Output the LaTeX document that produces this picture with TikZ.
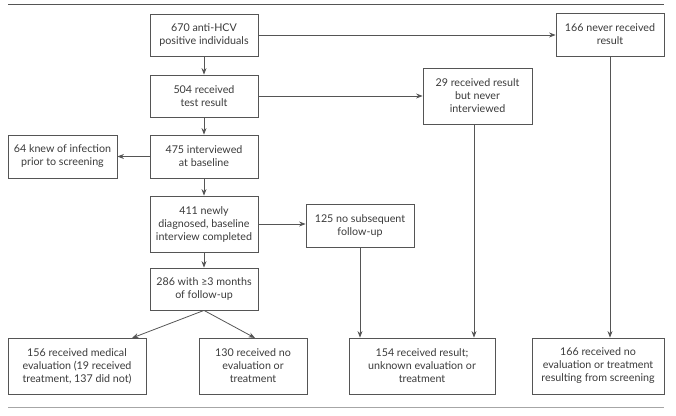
\documentclass[tikz,border=0pt]{standalone}
\usepackage{fontspec}
\setmainfont{Lato}
\usetikzlibrary{arrows.meta}
\definecolor{linegray}{HTML}{555555}
\definecolor{textgray}{HTML}{3A3A3A}
\begin{document}
\begin{tikzpicture}[x=1pt,y=-1pt,
  box/.style={draw=linegray, line width=0.8pt, align=center, inner sep=2pt,
    font=\fontsize{10.7}{13}\selectfont, text=textgray, anchor=center},
  conn/.style={draw=linegray, line width=0.8pt, -{Stealth[length=6.5pt,width=5pt]}},
  rulestyle/.style={draw=linegray, line width=0.8pt}]
\useasboundingbox (0,0) rectangle (676,415);
\coordinate (r1a) at (8,4); \coordinate (r1b) at (664,4);
\coordinate (r2a) at (8,407.5); \coordinate (r2b) at (664,407.5);
\draw[rulestyle] (r1a) -- (r1b);
\draw[rulestyle, draw=gray!70, line width=1.2pt] (r2a) -- (r2b);

\node[box, minimum width=108pt, minimum height=42pt] (A) at (204,35) {670 anti-HCV\\positive individuals};
\node[box, minimum width=108pt, minimum height=42pt] (B) at (204,96) {504 received\\test result};
\node[box, minimum width=108pt, minimum height=43pt] (C) at (204,156.5) {475 interviewed\\at baseline};
\node[box, minimum width=109pt, minimum height=43pt] (D) at (62.5,156.5) {64 knew of infection\\prior to screening};
\node[box, minimum width=108pt, minimum height=56pt] (E) at (204,224) {411 newly\\diagnosed, baseline\\interview completed};
\node[box, minimum width=108pt, minimum height=42pt] (F) at (204,289) {286 with ≥3 months\\of follow-up};
\node[box, minimum width=138pt, minimum height=56pt] (G) at (77,366) {156 received medical\\evaluation (19 received\\treatment, 137 did not)};
\node[box, minimum width=108pt, minimum height=56pt] (H) at (253,366) {130 received no\\evaluation or\\treatment};
\node[box, minimum width=108pt, minimum height=43pt] (I) at (360,225.5) {125 no subsequent\\follow-up};
\node[box, minimum width=109pt, minimum height=56pt] (J) at (477.5,96) {29 received result\\but never\\interviewed};
\node[box, minimum width=108pt, minimum height=43pt] (K) at (610,34.5) {166 never received\\result};
\node[box, minimum width=146pt, minimum height=56pt] (L) at (422,366) {154 received result;\\unknown evaluation or\\treatment};
\node[box, minimum width=132pt, minimum height=56pt] (M) at (598,366) {166 received no\\evaluation or treatment\\resulting from screening};

\draw[conn] (A) -- (B);
\draw[conn] (B) -- (C);
\draw[conn] (C) -- (E);
\draw[conn] (E) -- (F);
\draw[conn] (C) -- (D);
\draw[conn] (A.east) -- (A.east -| K.west);
\draw[conn] (B.east) -- (B.east -| J.west);
\draw[conn] (E.east) -- (E.east -| I.west);
\coordinate (gtop) at (132,338);
\coordinate (htop) at (255,338);
\draw[conn] (F.south) -- (gtop);
\draw[conn] (F.south) -- (htop);
\draw[conn] (I.south) -- (I.south |- L.north);
\coordinate (jx) at (474,124);
\draw[conn] (jx) -- (jx |- L.north);
\draw[conn] (K.south) -- (K.south |- M.north);
\end{tikzpicture}
\end{document}
